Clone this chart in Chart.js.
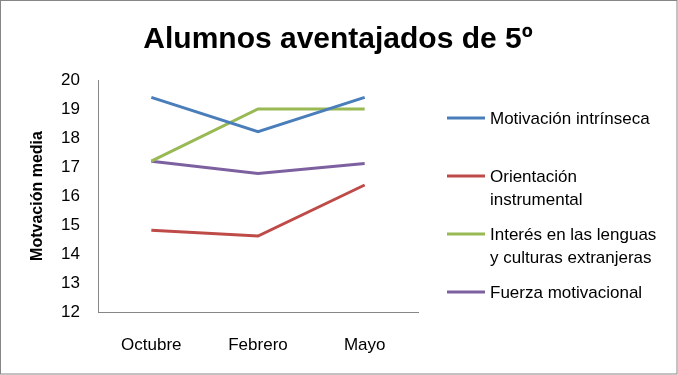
<!DOCTYPE html>
<html>
<head>
<meta charset="utf-8">
<script src="https://cdn.jsdelivr.net/npm/chart.js@4"></script>
<style>
  html, body { margin: 0; padding: 0; background: #fff; }
  #wrap { width: 678px; height: 375px; }
</style>
</head>
<body>
<div id="wrap"><canvas id="motivationChart" width="678" height="375"></canvas></div>
<script>
const months = ['Octubre', 'Febrero', 'Mayo'];
const seriesNames = [
  'Motivación intrínseca',
  'Orientación instrumental',
  'Interés en las lenguas y culturas extranjeras',
  'Fuerza motivacional'
];
const intrinseca = [19.4, 18.22, 19.4];
const instrumental = [14.82, 14.62, 16.38];
const interes = [17.2, 19.0, 19.0];
const fuerza = [17.2, 16.78, 17.12];
const yTicks = [12, 13, 14, 15, 16, 17, 18, 19, 20];
const chartTitle = 'Alumnos aventajados de 5º';

const colors = ['#4a7ebb', '#be4b48', '#98b954', '#7d60a0'];
const FONT = "'Liberation Sans', Arial, sans-serif";

// title centred on the whole picture, not on the plot
const topTitle = {
  id: 'topTitle',
  afterDraw(chart) {
    const ctx = chart.ctx;
    ctx.save();
    ctx.font = 'bold 30px ' + FONT;
    ctx.fillStyle = '#000';
    ctx.textAlign = 'center';
    ctx.textBaseline = 'alphabetic';
    ctx.fillText(chartTitle, 338, 48);
    ctx.restore();
  }
};

// legend drawn by hand so the labels can wrap like the original
const sideLegend = {
  id: 'sideLegend',
  afterDraw(chart) {
    const ctx = chart.ctx;
    ctx.save();
    ctx.font = '17px ' + FONT;
    ctx.textBaseline = 'middle';
    ctx.fillStyle = '#000';
    chart.data.datasets.forEach((ds, i) => {
      const y = 118 + i * 58;
      ctx.strokeStyle = ds.borderColor;
      ctx.lineWidth = 3;
      ctx.beginPath();
      ctx.moveTo(447, y);
      ctx.lineTo(485, y);
      ctx.stroke();
      const words = ds.label.split(' ');
      const lines = [];
      let cur = '';
      words.forEach(w => {
        const test = cur ? cur + ' ' + w : w;
        if (cur && ctx.measureText(test).width > 173) {
          lines.push(cur);
          cur = w;
        } else {
          cur = test;
        }
      });
      lines.push(cur);
      lines.forEach((l, j) => ctx.fillText(l, 490, y + 1 + j * 23));
    });
    ctx.restore();
  }
};

const frame = {
  id: 'frame',
  beforeDraw(chart) {
    const ctx = chart.ctx;
    ctx.save();
    ctx.fillStyle = '#fff';
    ctx.fillRect(0, 0, chart.width, chart.height);
    ctx.strokeStyle = '#868686';
    ctx.lineWidth = 1;
    ctx.strokeRect(0.5, 0.5, chart.width - 1.5, chart.height - 1.5);
    ctx.restore();
  }
};

const ctx = document.getElementById('motivationChart').getContext('2d');
new Chart(ctx, {
  type: 'line',
  data: {
    labels: months,
    datasets: [intrinseca, instrumental, interes, fuerza].map((vals, i) => ({
      label: seriesNames[i],
      data: vals,
      borderColor: colors[i],
      backgroundColor: colors[i],
      borderWidth: 3,
      pointRadius: 0,
      tension: 0
    }))
  },
  options: {
    responsive: false,
    animation: false,
    layout: { padding: { left: 0, right: 260, top: 80, bottom: 0 } },
    plugins: {
      legend: { display: false },
      tooltip: { enabled: false },
      title: { display: false }
    },
    scales: {
      x: {
        offset: true,
        grid: { display: false },
        border: { color: '#868686', width: 1 },
        ticks: { color: '#000', font: { family: FONT, size: 17 }, padding: 15 },
        afterFit(scale) { scale.height = 63; }
      },
      y: {
        min: 12,
        max: 20,
        grid: { display: false },
        border: { color: '#868686', width: 1 },
        afterBuildTicks(scale) { scale.ticks = yTicks.map(v => ({ value: v })); },
        ticks: { color: '#000', font: { family: FONT, size: 17 }, padding: 10 },
        title: {
          display: true,
          text: 'Motvación media',
          color: '#000',
          font: { family: FONT, size: 16, weight: 'bold' },
          padding: { top: 28, bottom: 0 }
        },
        afterFit(scale) { scale.width = 98; }
      }
    }
  },
  plugins: [frame, topTitle, sideLegend]
});
</script>
</body>
</html>
